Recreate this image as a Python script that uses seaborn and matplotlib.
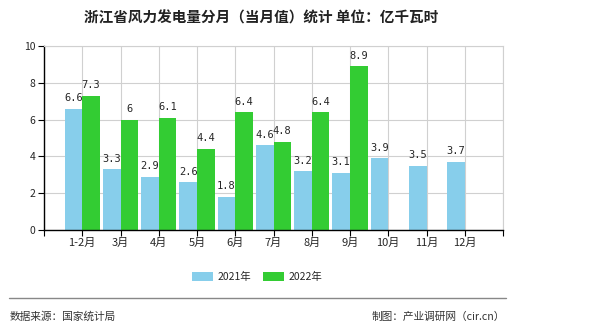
import matplotlib
matplotlib.use("Agg")
import matplotlib.pyplot as plt
import seaborn as sns
import pandas as pd
import numpy as np
from matplotlib.patches import Patch

months = ["1-2月", "3月", "4月", "5月", "6月", "7月", "8月", "9月", "10月", "11月", "12月"]
v2021 = [6.6, 3.3, 2.9, 2.6, 1.8, 4.6, 3.2, 3.1, 3.9, 3.5, 3.7]
v2022 = [7.3, 6, 6.1, 4.4, 6.4, 4.8, 6.4, 8.9, None, None, None]
series = ["2021年", "2022年"]
colors = ["#87CEEB", "#33CC33"]

sns.set_theme(style="white")
plt.rcParams["font.family"] = ["Noto Sans CJK SC", "DejaVu Sans"]

df = pd.DataFrame({
    "month": months * 2,
    "value": v2021 + v2022,
    "year": [series[0]] * len(months) + [series[1]] * len(months),
})

fig = plt.figure(figsize=(5.9, 3.3), dpi=100)
ax = fig.add_axes([44 / 590, 1 - 230 / 330, (503 - 44) / 590, (230 - 46) / 330])

sns.barplot(data=df, x="month", y="value", hue="year", order=months,
            hue_order=series, palette=colors, width=0.92, saturation=1,
            linewidth=0, edgecolor="none", ax=ax, legend=False)

ax.set_xlim(-1, len(months))
ax.set_ylim(0, 10)
ax.set_yticks([0, 2, 4, 6, 8, 10])
ax.set_xticks(range(-1, len(months) + 1))
ax.set_xticklabels([""] + months + [""], fontsize=8)
ax.tick_params(axis="y", labelsize=7.5, length=4, width=0.8, color="black", direction="out", left=True, pad=2)
ax.tick_params(axis="x", length=4, width=0.8, color="black", direction="out", bottom=True, pad=2)
ax.set_xlabel("")
ax.set_ylabel("")
ax.grid(True, color="#d0d0d0", linewidth=0.8)
ax.set_axisbelow(True)
for s in ["top", "right"]:
    ax.spines[s].set_color("#d0d0d0")
    ax.spines[s].set_linewidth(0.8)
for s in ["left", "bottom"]:
    ax.spines[s].set_color("black")
    ax.spines[s].set_linewidth(1.0)

for cont in ax.containers:
    for bar in cont:
        h = bar.get_height()
        if h is None or np.isnan(h):
            continue
        lbl = f"{h:g}"
        ax.annotate(lbl, (bar.get_x() + bar.get_width() / 2, h), xytext=(0, 4),
                    textcoords="offset points", ha="center", va="bottom",
                    fontsize=7.5, family="DejaVu Sans Mono")

handles = [Patch(facecolor=c, edgecolor="none") for c in colors]
fig.legend(handles, series, loc="center", bbox_to_anchor=(257 / 590, 1 - 277 / 330),
           ncol=2, frameon=False, fontsize=7.5, handlelength=2.0, handleheight=1.0,
           columnspacing=1.2, handletextpad=0.4)

fig.text(261 / 590, 1 - 17 / 330, "浙江省风力发电量分月（当月值）统计 单位：亿千瓦时",
         ha="center", va="center", fontsize=10.5, fontweight="bold", color="#222222")

fig.add_artist(plt.Line2D([9 / 590, 506 / 590], [1 - 298 / 330, 1 - 298 / 330],
                          color="#888888", linewidth=1))
fig.text(10 / 590, 1 - 317 / 330, "数据来源：国家统计局", ha="left", va="center",
         fontsize=7.7, color="#333333")
fig.text(505 / 590, 1 - 317 / 330, "制图：产业调研网（cir.cn）", ha="right", va="center",
         fontsize=7.7, color="#333333")

fig.savefig("out.png", dpi=100)
